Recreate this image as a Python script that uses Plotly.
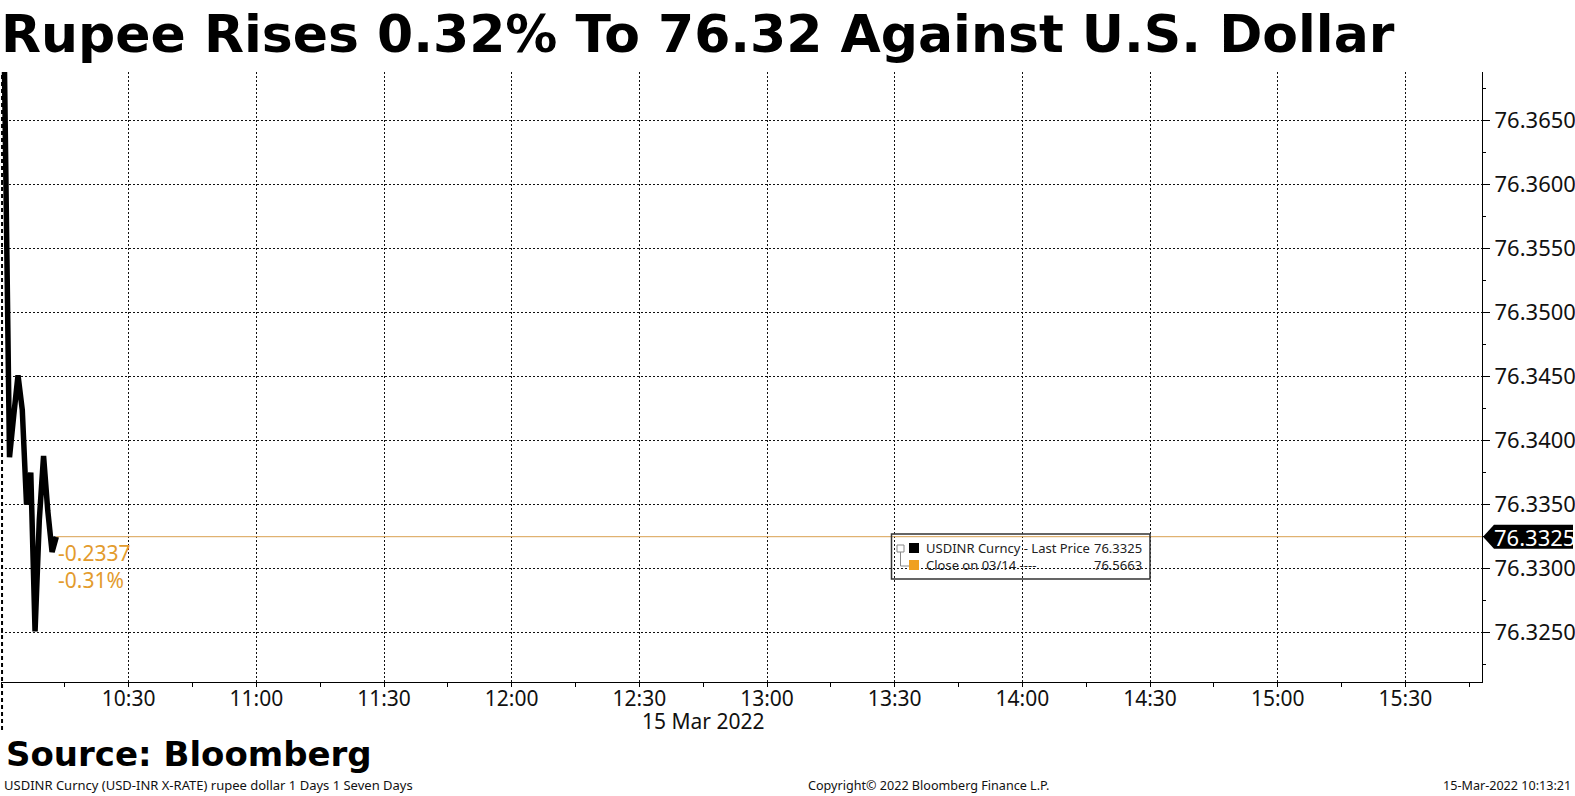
import plotly.graph_objects as go

day = "2022-03-15"
times = ["10:00", "10:01", "10:02", "10:03", "10:04", "10:05", "10:06",
         "10:07", "10:08", "10:09", "10:10", "10:11", "10:12", "10:13"]
usdinr = [76.3900, 76.3650, 76.3387, 76.3420, 76.3451, 76.3424, 76.3350,
          76.3375, 76.3251, 76.3338, 76.3388, 76.3345, 76.3313, 76.3325]
last_price = 76.3325
prev_close = 76.5663
change_abs = "-0.2337"
change_pct = "-0.31%"
x_ticks = ["10:30", "11:00", "11:30", "12:00", "12:30", "13:00",
           "13:30", "14:00", "14:30", "15:00", "15:30"]
y_ticks = [76.325, 76.330, 76.335, 76.340, 76.345, 76.350, 76.355, 76.360, 76.365]
x_start, x_end = "10:00", "15:48"
y_range = [76.32115, 76.3688]

ORANGE = "#E39B2D"
W, H = 1575, 796
L, R, T, B = 1, 93, 72, 114


def px(x):
    return (x - L) / (W - L - R)


def py(y):
    return (H - B - y) / (H - T - B)


def ts(t):
    return f"{day} {t}"


fig = go.Figure()
fig.add_trace(go.Scatter(
    x=[ts(t) for t in times], y=usdinr, mode="lines",
    line=dict(color="black", width=5.5), hoverinfo="skip", showlegend=False,
))

grid = dict(showgrid=True, gridcolor="#111", gridwidth=1, griddash="2px,2px",
            zeroline=False, automargin=False)
fig.update_xaxes(
    type="date", range=[ts(x_start), ts(x_end)],
    tickvals=[ts(t) for t in x_ticks], ticktext=x_ticks,
    ticks="outside", ticklen=4, tickcolor="black", ticklabelstandoff=-6,
    minor=dict(ticks="outside", ticklen=4, dtick=15 * 60 * 1000, tick0=ts(x_start),
               showgrid=False, tickcolor="black"),
    showline=True, linecolor="black", linewidth=1.2,
    tickfont=dict(family="Noto Sans", size=21, color="#111"),
    **grid,
)
fig.update_yaxes(
    side="right", range=y_range, tickvals=y_ticks, tickformat=".4f",
    ticks="outside", ticklen=7, tickcolor="black",
    minor=dict(ticks="outside", ticklen=3, dtick=0.0025, tick0=76.325,
               showgrid=False, tickcolor="black"),
    showline=True, linecolor="black", linewidth=1.2,
    tickfont=dict(family="Noto Sans", size=22, color="#111"),
    **grid,
)

shapes = [
    # session start marker
    dict(type="line", xref="paper", yref="paper", x0=0.0007, x1=0.0007,
         y0=py(730), y1=1, line=dict(color="black", width=2, dash="4px,3px")),
    # last price line
    dict(type="line", xref="x", yref="y", x0=ts(times[-1]), x1=ts(x_end),
         y0=last_price, y1=last_price, line=dict(color="#D9A050", width=1)),
    # price tag on axis
    dict(type="path", xref="paper", yref="y", xsizemode="pixel", ysizemode="pixel",
         xanchor=1, yanchor=last_price,
         path="M 1,0 L 12,12 L 91,12 L 91,-12 L 12,-12 Z",
         fillcolor="black", line=dict(width=0)),
    # legend box
    dict(type="rect", xref="paper", yref="paper", x0=px(891.5), x1=px(1150),
         y0=py(579), y1=py(534), line=dict(color="#333", width=1.5)),
    dict(type="rect", xref="paper", yref="paper", x0=px(909), x1=px(919),
         y0=py(553), y1=py(543), fillcolor="black", line=dict(width=0)),
    dict(type="rect", xref="paper", yref="paper", x0=px(909), x1=px(919),
         y0=py(570), y1=py(560), fillcolor="#F0A020", line=dict(width=0)),
    dict(type="rect", xref="paper", yref="paper", x0=px(897), x1=px(904),
         y0=py(552), y1=py(545), line=dict(color="#888", width=1)),
    dict(type="path", xref="paper", yref="paper",
         path=f"M {px(900.5)},{py(552)} L {px(900.5)},{py(566)} L {px(909)},{py(566)}",
         line=dict(color="#888", width=1)),
]
fig.update_layout(shapes=shapes)

notes = [
    dict(text="<b>Rupee Rises 0.32% To 76.32 Against U.S. Dollar</b>", x=px(-1.5), y=py(34),
         xanchor="left", yanchor="middle",
         font=dict(family="DejaVu Sans", size=52, color="black")),
    dict(text="<b>Source: Bloomberg</b>", x=px(4), y=py(754),
         xanchor="left", yanchor="middle",
         font=dict(family="DejaVu Sans", size=34, color="black")),
    dict(text="USDINR Curncy (USD-INR X-RATE) rupee dollar 1 Days 1 Seven Days",
         x=px(2), y=py(785), xanchor="left", yanchor="middle",
         font=dict(family="Noto Sans", size=13, color="#111")),
    dict(text="Copyright\u00a9 2022 Bloomberg Finance L.P.", x=px(806), y=py(785),
         xanchor="left", yanchor="middle",
         font=dict(family="Noto Sans", size=12.6, color="#111")),
    dict(text="15-Mar-2022 10:13:21", x=px(1573), y=py(785),
         xanchor="right", yanchor="middle",
         font=dict(family="Noto Sans", size=12.6, color="#111")),
    dict(text="USDINR Curncy - Last Price", x=px(924), y=py(548),
         xanchor="left", yanchor="middle",
         font=dict(family="Noto Sans", size=13, color="#222")),
    dict(text=f"{last_price:.4f}", x=px(1144), y=py(548),
         xanchor="right", yanchor="middle",
         font=dict(family="Noto Sans", size=13, color="#222")),
    dict(text="Close on 03/14 ----", x=px(924), y=py(565),
         xanchor="left", yanchor="middle",
         font=dict(family="Noto Sans", size=13, color="#222")),
    dict(text=f"{prev_close:.4f}", x=px(1144), y=py(565),
         xanchor="right", yanchor="middle",
         font=dict(family="Noto Sans", size=13, color="#222")),
]
for n in notes:
    fig.add_annotation(xref="paper", yref="paper", showarrow=False, **n)

fig.add_annotation(xref="x", yref="paper", x=ts("12:45"), y=py(721), text="15 Mar 2022",
                   showarrow=False, yanchor="middle",
                   font=dict(family="Noto Sans", size=21, color="#111"))
fig.add_annotation(xref="x", yref="y", x=ts(times[-1]), y=last_price,
                   text=f"{change_abs}<br>{change_pct}", showarrow=False,
                   xanchor="left", yanchor="top", align="left",
                   font=dict(family="Noto Sans", size=21, color=ORANGE))
fig.add_annotation(xref="paper", yref="y", x=1, y=last_price, text=f"{last_price:.4f}",
                   showarrow=False, xanchor="left", yanchor="middle", xshift=10,
                   font=dict(family="Noto Sans", size=22, color="white"))

fig.update_layout(
    width=W, height=H,
    margin=dict(l=L, r=R, t=T, b=B, autoexpand=False),
    plot_bgcolor="white", paper_bgcolor="white",
    showlegend=False,
)

fig.write_html(
    "out.html",
    config={"displayModeBar": False},
    post_script="document.body.style.margin='0';document.body.style.overflow='hidden';",
)
